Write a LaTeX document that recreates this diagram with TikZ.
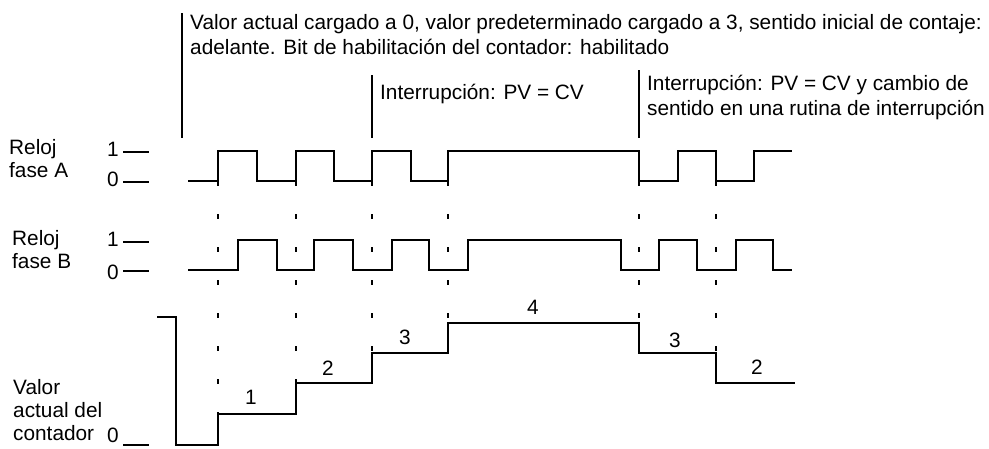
\documentclass[tikz,border=0pt]{standalone}
\usepackage{fontspec}
\setmainfont{Liberation Sans}
\usepackage{tikz}
\usetikzlibrary{positioning}

\begin{document}
\begin{tikzpicture}[
  x=1pt, y=-1pt,
  wave/.style={line width=1.2pt, line join=miter},
  marker/.style={line width=1.8pt},
  guide/.style={line width=1.1pt, dash pattern=on 5pt off 28pt},
  level/.style={line width=1.1pt},
  txt/.style={inner sep=0pt, font=\fontsize{20.8}{25}\selectfont, align=left},
  side/.style={inner sep=0pt, font=\fontsize{20.8}{23}\selectfont, align=left},
  val/.style={inner sep=0pt, font=\fontsize{20.8}{25}\selectfont}
]
\useasboundingbox (0,0) rectangle (989,448);

% top notes (base anchor = last line)
\node[txt, anchor=base west] (init) at (190,54.5)
  {Valor actual cargado a 0, valor predeterminado cargado a 3, sentido inicial de contaje:\\adelante. Bit de habilitaci\'on del contador: habilitado};
\node[txt, anchor=base west] (irqA) at (380,99) {Interrupci\'on: PV = CV};
\node[txt, anchor=base west] (irqB) at (647,115)
  {Interrupci\'on: PV = CV y cambio de\\sentido en una rutina de interrupci\'on};
\draw[marker] (182,13) -- (182,138);
\draw[marker] (372,75) -- (372,138);
\draw[marker] (639,70) -- (639,138);

% left labels
\node[side, anchor=base west] (relA) at (9,177) {Reloj\\fase A};
\node[side, anchor=base west] (relB) at (12,268) {Reloj\\fase B};
\node[side, anchor=base west] (cnt) at (13,440) {Valor\\actual del\\contador};
\node[val, anchor=base west] (oneA) at (107,156) {1};
\node[val, anchor=base west] (zeroA) at (107,186) {0};
\node[val, anchor=base west] (oneB) at (107,246) {1};
\node[val, anchor=base west] (zeroB) at (107,279) {0};
\node[val, anchor=base west] (zeroC) at (107,442.5) {0};
\draw[level] (123,152) -- (149,152);
\draw[level] (123,182) -- (149,182);
\draw[level] (123,242) -- (149,242);
\draw[level] (123,271) -- (149,271);
\draw[level] (123,445) -- (149,445);

% clock phase A
\draw[wave] (188,181) -- (218,181) -- (218,151) -- (257,151) -- (257,181)
  -- (296,181) -- (296,151) -- (334,151) -- (334,181) -- (372,181)
  -- (372,151) -- (411,151) -- (411,181) -- (448,181) -- (448,151)
  -- (639,151) -- (639,181) -- (678,181) -- (678,151) -- (716,151)
  -- (716,181) -- (754,181) -- (754,151) -- (792,151);

% clock phase B
\draw[wave] (188,270) -- (238,270) -- (238,240) -- (277,240) -- (277,270)
  -- (314,270) -- (314,240) -- (353,240) -- (353,270) -- (392,270)
  -- (392,240) -- (429,240) -- (429,270) -- (468,270) -- (468,240)
  -- (621,240) -- (621,270) -- (659,270) -- (659,240) -- (697,240)
  -- (697,270) -- (736,270) -- (736,240) -- (773,240) -- (773,270)
  -- (792,270);

% current value
\draw[wave] (157,317) -- (176,317) -- (176,445) -- (218,445) -- (218,414)
  -- (296,414) -- (296,383) -- (372,383) -- (372,353) -- (448,353)
  -- (448,323) -- (639,323) -- (639,353) -- (716,353) -- (716,383)
  -- (795,383);
\node[val] (v1) at (251,397) {1};
\node[val] (v2) at (328,368) {2};
\node[val] (v3) at (405,337) {3};
\node[val] (v4) at (533,307) {4};
\node[val] (v5) at (675,340) {3};
\node[val] (v6) at (757,367) {2};

% guides
\draw[guide] (218,181) -- (218,414);
\draw[guide] (296,181) -- (296,383);
\draw[guide] (372,181) -- (372,353);
\draw[guide] (448,181) -- (448,323);
\draw[guide] (639,181) -- (639,323);
\draw[guide] (716,181) -- (716,353);
\end{tikzpicture}
\end{document}
